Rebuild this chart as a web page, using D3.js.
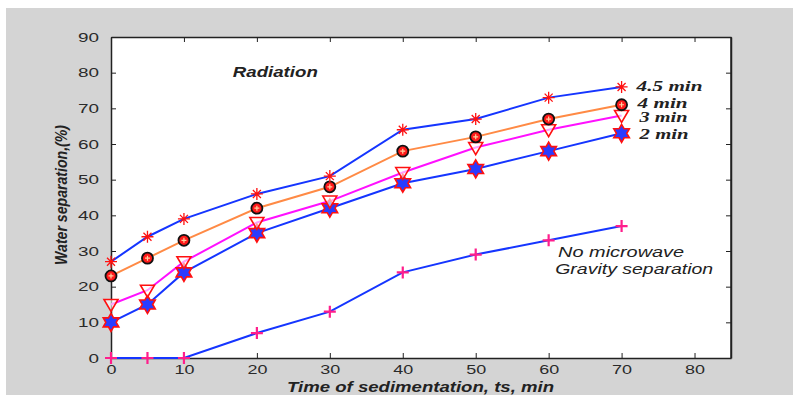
<!DOCTYPE html>
<html lang="en">
<head>
<meta charset="UTF-8">
<title>Water separation vs time of sedimentation</title>
<script src="https://d3js.org/d3.v7.min.js"></script>
<style>
    body { margin: 0; background: #fff; }
    svg { display: block; }
    .tick text { font-family: "Liberation Sans", Arial, sans-serif; fill: #2a2a2a; }
    .lbl { font-family: "Liberation Sans", Arial, sans-serif; font-weight: bold; font-style: italic; fill: #222; }
    .leg { font-family: "Liberation Serif", "Times New Roman", serif; font-weight: bold; font-style: italic; fill: #222; }
</style>
</head>
<body>
<div id="chart"></div>
<script>
// data
const times = [0, 5, 10, 20, 30, 40, 50, 60, 70];
const sep45 = [27, 34, 39, 46, 51, 64, 67, 73, 76];
const sep4 = [23, 28, 33, 42, 48, 58, 62, 67, 71];
const sep3 = [15, 19, 27, 38, 44, 52, 59, 64, 68];
const sep2 = [10, 15, 24, 35, 42, 49, 53, 58, 63];
const sepNone = [0, 0, 0, 7, 13, 24, 29, 33, 37];
const seriesLabels = ["4.5 min", "4 min", "3 min", "2 min"];
const xTicks = [0, 10, 20, 30, 40, 50, 60, 70, 80];
const yTicks = [0, 10, 20, 30, 40, 50, 60, 70, 80, 90];

const W = 793, H = 395;
const margin = {top: 37, right: 62, bottom: 37, left: 111};
const width = W - margin.left - margin.right;
const height = H - margin.top - margin.bottom;

const svg = d3.select("#chart").append("svg")
    .attr("width", W).attr("height", H);

// grey figure background
svg.append("rect").attr("x", 6).attr("y", 8)
    .attr("width", W - 6).attr("height", H - 8).attr("fill", "#d4d4d4");

const g = svg.append("g").attr("transform", `translate(${margin.left},${margin.top})`);
g.append("rect").attr("width", width).attr("height", height).attr("fill", "#fff");

const x = d3.scaleLinear().domain([0, 85]).range([0, width]);
const y = d3.scaleLinear().domain([0, 90]).range([height, 0]);

// stretch tick text a bit, the original is wide
function widen(sel, perChar) {
    sel.selectAll(".tick text")
        .attr("font-size", 13)
        .attr("textLength", function() { return this.textContent.length * perChar; })
        .attr("lengthAdjust", "spacingAndGlyphs");
}

const axB = g.append("g").attr("transform", `translate(0,${height})`)
    .call(d3.axisBottom(x).tickValues(xTicks).tickSizeInner(-5).tickSizeOuter(0).tickPadding(7));
widen(axB, 10);
const axL = g.append("g")
    .call(d3.axisLeft(y).tickValues(yTicks).tickSizeInner(-5).tickSizeOuter(0).tickPadding(12));
widen(axL, 10.5);
const axT = g.append("g")
    .call(d3.axisTop(x).tickValues(xTicks).tickSizeInner(-5).tickSizeOuter(0).tickFormat(""));
const axR = g.append("g").attr("transform", `translate(${width},0)`)
    .call(d3.axisRight(y).tickValues(yTicks).tickSizeInner(-5).tickSizeOuter(0).tickFormat(""));
[axB, axL, axT, axR].forEach(a => {
    a.select(".domain").attr("stroke", "#222").attr("stroke-width", 1.5);
    a.selectAll(".tick line").attr("stroke", "#222");
});
// the right end of bottom and top axis
g.append("line").attr("x1", width).attr("x2", width).attr("y1", 0).attr("y2", height)
    .attr("stroke", "#222").attr("stroke-width", 1.5);

const line = d3.line().x((d, i) => x(times[i])).y(d => y(d));

// marker shapes
function hexagram(R) {
    const r = R / Math.sqrt(3);
    const pts = [];
    for (let k = 0; k < 12; k++) {
        const a = -Math.PI / 2 + k * Math.PI / 6;
        const rr = k % 2 === 0 ? R : r;
        pts.push([rr * Math.cos(a), rr * Math.sin(a)]);
    }
    return "M" + pts.map(p => p.join(",")).join("L") + "Z";
}
const asterisk = "M-6,0L6,0M0,-6L0,6M-4,-4L4,4M-4,4L4,-4";
const plus = "M-6,0L6,0M0,-6L0,6";
const triDown = "M-7,-5L7,-5L0,7Z";
const smallPlus = "M-2.5,0L2.5,0M0,-2.5L0,2.5";

const series = [
    {vals: sepNone, color: "#1535ff", draw: m => m.append("path").attr("d", plus).attr("stroke", "#ff1e8c").attr("stroke-width", 2.2)},
    {vals: sep2, color: "#1535ff", draw: m => m.append("path").attr("d", hexagram(9)).attr("fill", "#2a3cff").attr("stroke", "#ff1010").attr("stroke-width", 1.6)},
    {vals: sep3, color: "#ff10ff", draw: m => m.append("path").attr("d", triDown).attr("fill", "#fff").attr("fill-opacity", 0.6).attr("stroke", "#ff1010").attr("stroke-width", 1.6)},
    {vals: sep4, color: "#ff8a45", draw: m => {
        m.append("circle").attr("r", 5.5).attr("fill", "#ff1a1a").attr("stroke", "#111").attr("stroke-width", 1.8);
        m.append("path").attr("d", smallPlus).attr("stroke", "#ffd0a0").attr("stroke-width", 1.2);
    }},
    {vals: sep45, color: "#1535ff", draw: m => m.append("path").attr("d", asterisk).attr("stroke", "#ff1010").attr("stroke-width", 1.3)}
];

series.forEach(s => {
    g.append("path").datum(s.vals).attr("d", line)
        .attr("fill", "none").attr("stroke", s.color).attr("stroke-width", 2);
});
series.forEach(s => {
    g.selectAll(null).data(s.vals).enter().append("g")
        .attr("transform", (d, i) => `translate(${x(times[i])},${y(d)})`)
        .each(function() { s.draw(d3.select(this)); });
});

// end labels
const lastVals = [sep45, sep4, sep3, sep2].map(a => a[a.length - 1]);
const labelDy = [4, 3, 7, 6];
const labelLen = [66, 50, 48, 49];
seriesLabels.forEach((t, i) => {
    g.append("text").attr("class", "leg")
        .attr("x", x(70) + 15 + (i > 1 ? 3 : i))
        .attr("y", y(lastVals[i]) + labelDy[i])
        .attr("font-size", 14)
        .attr("textLength", labelLen[i]).attr("lengthAdjust", "spacingAndGlyphs")
        .text(t);
});

// annotations
g.append("text").attr("class", "lbl").attr("x", x(16.7)).attr("y", y(78.8))
    .attr("font-size", 14).attr("textLength", 85).attr("lengthAdjust", "spacingAndGlyphs")
    .text("Radiation");
g.append("text").attr("class", "lbl").attr("x", x(61.3)).attr("y", y(28.3))
    .attr("font-size", 14).attr("textLength", 126).attr("lengthAdjust", "spacingAndGlyphs")
    .style("font-weight", "normal").text("No microwave");
g.append("text").attr("class", "lbl").attr("x", x(60.9)).attr("y", y(23.5))
    .attr("font-size", 14).attr("textLength", 158).attr("lengthAdjust", "spacingAndGlyphs")
    .style("font-weight", "normal").text("Gravity separation");

// axis titles
svg.append("text").attr("class", "lbl")
    .attr("x", 287).attr("y", 392).attr("font-size", 14)
    .attr("textLength", 267).attr("lengthAdjust", "spacingAndGlyphs")
    .text("Time of sedimentation, ts, min");
svg.append("text").attr("class", "lbl")
    .attr("transform", "translate(67,195) rotate(-90)")
    .attr("text-anchor", "middle").attr("font-size", 17)
    .attr("textLength", 140).attr("lengthAdjust", "spacingAndGlyphs")
    .text("Water separation,(%)");
</script>
</body>
</html>
